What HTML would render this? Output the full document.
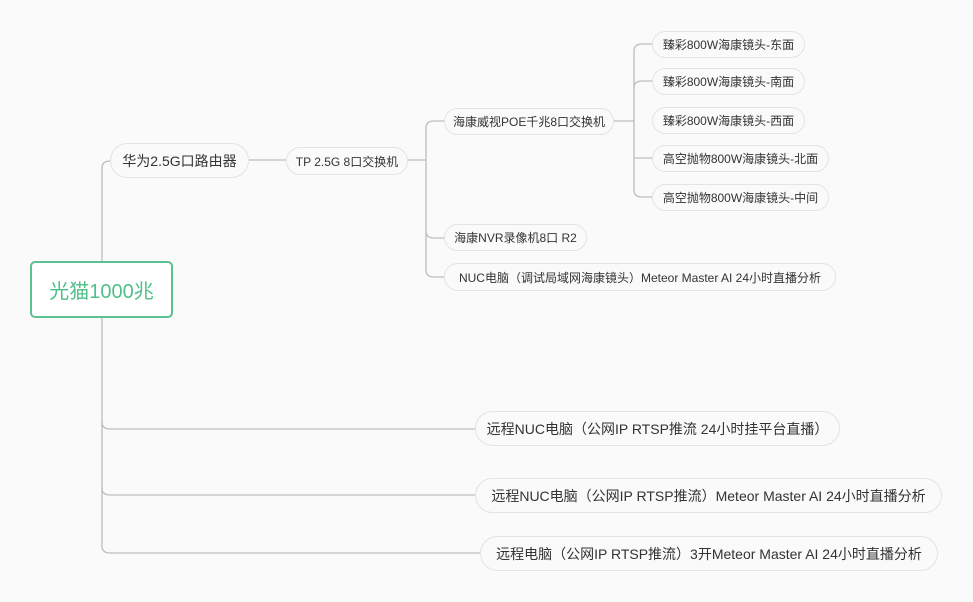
<!DOCTYPE html>
<html><head><meta charset="utf-8"><style>
body{margin:0;width:973px;height:602px;background:#fafafa;position:relative;overflow:hidden;font-family:"Liberation Sans","Noto Sans CJK SC",sans-serif;color:#333}
.n{position:absolute;box-sizing:border-box;border:1px solid #e3e3e3;border-radius:16px;background:#fafafa;display:flex;align-items:center;justify-content:center;white-space:nowrap;font-size:12px}
.b{font-size:14px;border-radius:18px}
svg{position:absolute;left:0;top:0}
</style></head><body>
<svg width="973" height="602" fill="none" stroke="#bdbdbd" stroke-width="1.3">
<path d="M102 261 V168 Q102 161 110 161"/>
<path d="M102 318 V546 Q102 553 110 553 H480"/>
<path d="M102 422 Q102 429 110 429 H475"/>
<path d="M102 488 Q102 495 110 495 H475"/>
<path d="M249 160 H286"/>
<path d="M408 160 H426"/>
<path d="M426 128 Q426 121 434 121 H444"/>
<path d="M426 128 V270 Q426 277 434 277 H444"/>
<path d="M426 231 Q426 238 434 238 H444"/>
<path d="M614 121 H634"/>
<path d="M634 51 Q634 44 642 44 H652"/>
<path d="M634 51 V190 Q634 197 642 197 H652"/>
<path d="M634 88 Q634 81 642 81 H652"/>
<path d="M634 158 H652"/>
</svg>
<div class="n" style="left:30px;top:261px;width:143px;height:57px;border:2px solid #5cc190;border-radius:5px;background:#fff;color:#4fbf8a;font-size:20px">光猫1000兆</div>
<div class="n b" style="left:110px;top:143px;width:139px;height:35px">华为2.5G口路由器</div>
<div class="n" style="left:286px;top:147px;width:122px;height:28px">TP 2.5G 8口交换机</div>
<div class="n" style="left:444px;top:108px;width:170px;height:27px">海康威视POE千兆8口交换机</div>
<div class="n" style="left:444px;top:224px;width:143px;height:27px">海康NVR录像机8口 R2</div>
<div class="n" style="left:444px;top:263px;width:392px;height:28px">NUC电脑（调试局域网海康镜头）Meteor Master AI 24小时直播分析</div>
<div class="n" style="left:652px;top:31px;width:153px;height:27px">臻彩800W海康镜头-东面</div>
<div class="n" style="left:652px;top:68px;width:153px;height:27px">臻彩800W海康镜头-南面</div>
<div class="n" style="left:652px;top:107px;width:153px;height:27px">臻彩800W海康镜头-西面</div>
<div class="n" style="left:652px;top:145px;width:177px;height:27px">高空抛物800W海康镜头-北面</div>
<div class="n" style="left:652px;top:184px;width:177px;height:27px">高空抛物800W海康镜头-中间</div>
<div class="n b" style="left:475px;top:411px;width:365px;height:35px">远程NUC电脑（公网IP RTSP推流 24小时挂平台直播）</div>
<div class="n b" style="left:475px;top:478px;width:467px;height:35px">远程NUC电脑（公网IP RTSP推流）Meteor Master AI 24小时直播分析</div>
<div class="n b" style="left:480px;top:536px;width:458px;height:35px">远程电脑（公网IP RTSP推流）3开Meteor Master AI 24小时直播分析</div>
</body></html>
